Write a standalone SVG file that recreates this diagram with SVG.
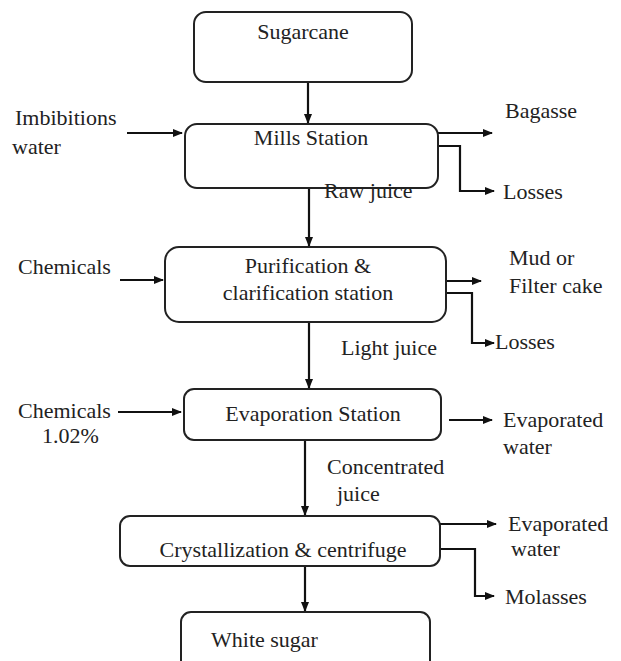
<svg xmlns="http://www.w3.org/2000/svg" width="621" height="661" viewBox="0 0 621 661">
<defs>
<marker id="ah" viewBox="0 0 10 10" refX="9" refY="5" markerWidth="10" markerHeight="10" markerUnits="userSpaceOnUse" orient="auto">
<path d="M0,1 L10,5 L0,9 z" fill="#111"/>
</marker>
</defs>
<rect width="621" height="661" fill="#fff"/>
<g id="connectors" fill="none" stroke="#111" stroke-width="2.2" marker-end="url(#ah)">
<path d="M308,82 V123"/>
<path d="M309,188 V246"/>
<path d="M309,322 V388"/>
<path d="M305,440 V515"/>
<path d="M305,566 V611"/>
<path d="M127,133 H182"/>
<path d="M120,280 H163"/>
<path d="M118,412 H181"/>
<path d="M438,133 H492"/>
<path d="M438,146 H460 V191 H494"/>
<path d="M446,281 H481"/>
<path d="M446,293 H472 V343 H494"/>
<path d="M449,420 H492"/>
<path d="M440,524 H496"/>
<path d="M440,549 H475 V596 H494"/>
</g>
<g id="sugarcane"><rect x="194" y="12" width="218" height="70" rx="12" fill="#fff" stroke="#222" stroke-width="2"/><text style="font-family:'Liberation Serif',serif;font-size:22px" fill="#222" text-anchor="middle" x="303" y="39">Sugarcane</text></g>
<g id="mills"><rect x="185" y="124" width="253" height="64" rx="12" fill="#fff" stroke="#222" stroke-width="2"/><text style="font-family:'Liberation Serif',serif;font-size:22px" fill="#222" text-anchor="middle" x="311" y="145">Mills Station</text></g>
<g id="purification"><rect x="165" y="247" width="281" height="75" rx="14" fill="#fff" stroke="#222" stroke-width="2"/><text style="font-family:'Liberation Serif',serif;font-size:22px" fill="#222" text-anchor="middle" x="308" y="273">Purification &amp;</text><text style="font-family:'Liberation Serif',serif;font-size:22px" fill="#222" text-anchor="middle" x="308" y="300">clarification station</text></g>
<g id="evaporation"><rect x="184" y="389" width="257" height="51" rx="10" fill="#fff" stroke="#222" stroke-width="2"/><text style="font-family:'Liberation Serif',serif;font-size:22px" fill="#222" text-anchor="middle" x="313" y="421">Evaporation Station</text></g>
<g id="crystallization"><rect x="120" y="516" width="320" height="50" rx="10" fill="#fff" stroke="#222" stroke-width="2"/><text style="font-family:'Liberation Serif',serif;font-size:22px" fill="#222" text-anchor="middle" x="283" y="557">Crystallization &amp; centrifuge</text></g>
<g id="whitesugar"><rect x="181" y="612" width="249" height="60" rx="10" fill="#fff" stroke="#222" stroke-width="2"/><text style="font-family:'Liberation Serif',serif;font-size:22px" fill="#222" x="211" y="647">White sugar</text></g>
<g id="labels" fill="#222">
<text style="font-family:'Liberation Serif',serif;font-size:22px" x="15" y="125">Imbibitions</text>
<text style="font-family:'Liberation Serif',serif;font-size:22px" x="12" y="154">water</text>
<text style="font-family:'Liberation Serif',serif;font-size:22px" x="324" y="198">Raw juice</text>
<text style="font-family:'Liberation Serif',serif;font-size:22px" x="505" y="118">Bagasse</text>
<text style="font-family:'Liberation Serif',serif;font-size:22px" x="503" y="199">Losses</text>
<text style="font-family:'Liberation Serif',serif;font-size:22px" x="18" y="274">Chemicals</text>
<text style="font-family:'Liberation Serif',serif;font-size:22px" x="509" y="265">Mud or</text>
<text style="font-family:'Liberation Serif',serif;font-size:22px" x="509" y="293">Filter cake</text>
<text style="font-family:'Liberation Serif',serif;font-size:22px" x="495" y="349">Losses</text>
<text style="font-family:'Liberation Serif',serif;font-size:22px" x="341" y="355">Light juice</text>
<text style="font-family:'Liberation Serif',serif;font-size:22px" x="18" y="418">Chemicals</text>
<text style="font-family:'Liberation Serif',serif;font-size:22px" x="42" y="443">1.02%</text>
<text style="font-family:'Liberation Serif',serif;font-size:22px" x="503" y="427">Evaporated</text>
<text style="font-family:'Liberation Serif',serif;font-size:22px" x="503" y="454">water</text>
<text style="font-family:'Liberation Serif',serif;font-size:22px" x="327" y="474">Concentrated</text>
<text style="font-family:'Liberation Serif',serif;font-size:22px" x="337" y="501">juice</text>
<text style="font-family:'Liberation Serif',serif;font-size:22px" x="508" y="531">Evaporated</text>
<text style="font-family:'Liberation Serif',serif;font-size:22px" x="511" y="556">water</text>
<text style="font-family:'Liberation Serif',serif;font-size:22px" x="505" y="604">Molasses</text>
</g>
</svg>
